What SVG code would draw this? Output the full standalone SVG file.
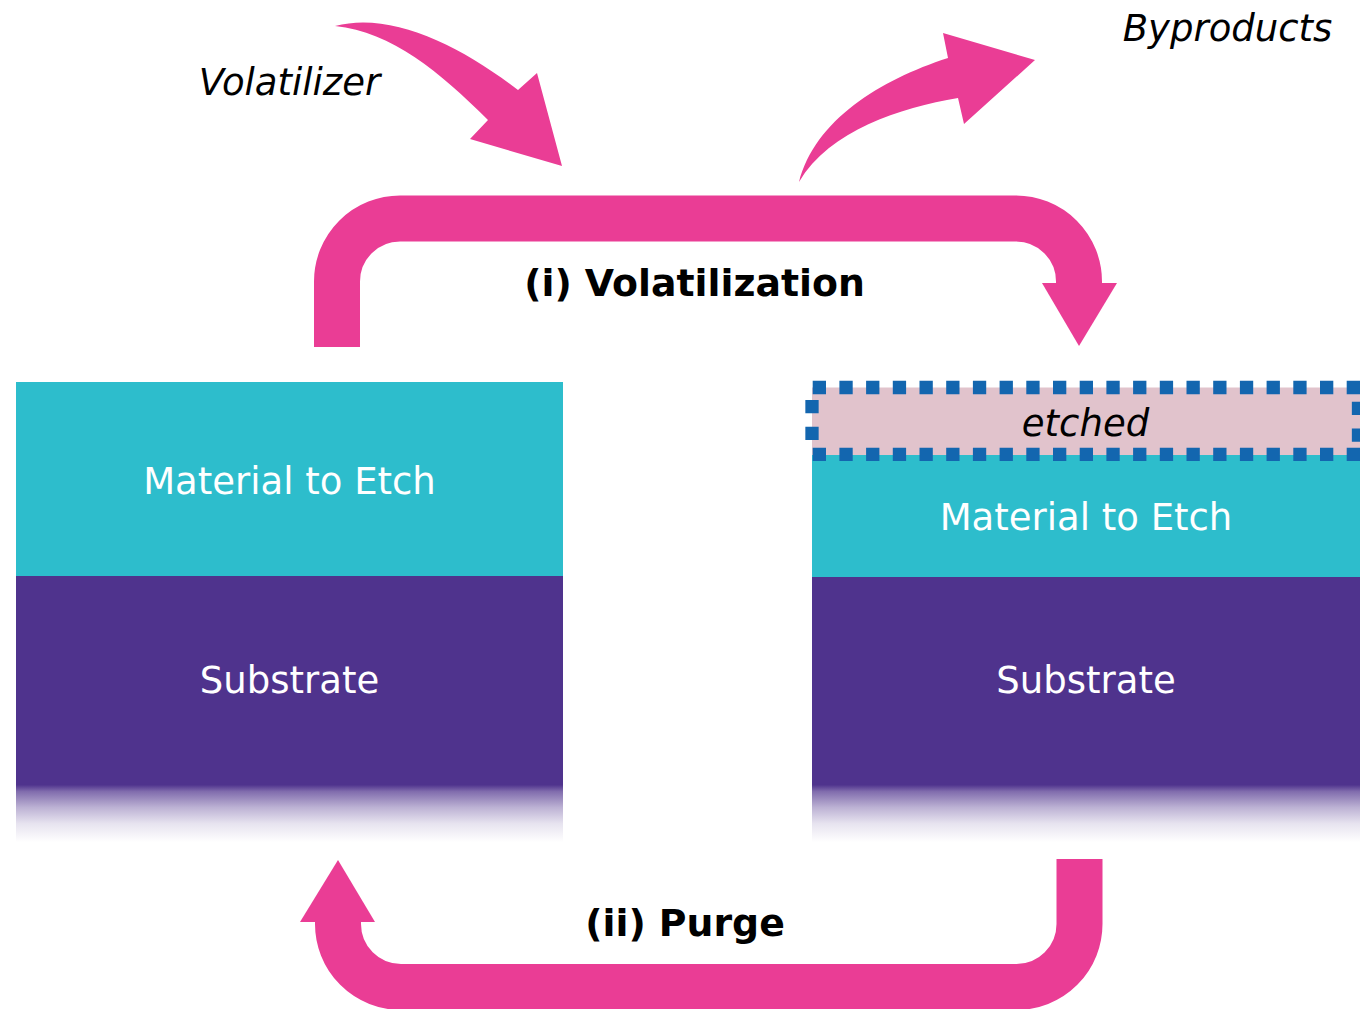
<svg xmlns="http://www.w3.org/2000/svg" width="1360" height="1009" viewBox="0 0 1360 1009">
  <style>
    .flow { fill: none; stroke: #EA3D95; stroke-width: 46; }
    .head { fill: #EA3D95; }
    .film { fill: #2DBDCC; }
    .lbl { font-family: "DejaVu Sans", Verdana, sans-serif; font-size: 37px; text-anchor: middle; }
    .white { fill: #FFFFFF; }
    .ital { font-style: italic; fill: #000000; }
    .step { font-weight: bold; font-size: 37.8px; fill: #000000; }
    .dots { fill: none; stroke: #1366AF; stroke-width: 13.3; stroke-dasharray: 13.3 13.4; }
  </style>
  <defs>
    <linearGradient id="substrateFade" gradientUnits="userSpaceOnUse" x1="0" y1="576" x2="0" y2="842">
      <stop offset="0" stop-color="#4F338D" stop-opacity="1"/>
      <stop offset="0.785" stop-color="#4F338D" stop-opacity="1"/>
      <stop offset="0.81" stop-color="#4F338D" stop-opacity="0.72"/>
      <stop offset="0.87" stop-color="#4F338D" stop-opacity="0.38"/>
      <stop offset="0.93" stop-color="#4F338D" stop-opacity="0.14"/>
      <stop offset="1" stop-color="#4F338D" stop-opacity="0"/>
    </linearGradient>
  </defs>

  <rect width="1360" height="1009" fill="#FFFFFF"/>

  <!-- starting stack -->
  <g id="stack-before">
    <rect class="film" x="16" y="382" width="547" height="194"/>
    <rect x="16" y="576" width="547" height="266" fill="url(#substrateFade)"/>
    <text class="lbl white" x="289.5" y="494">Material to Etch</text>
    <text class="lbl white" x="289.5" y="693">Substrate</text>
  </g>

  <!-- stack after one cycle, top layer removed -->
  <g id="stack-after">
    <rect x="812" y="387.5" width="548" height="67.5" fill="#E1C3CC"/>
    <rect class="film" x="812" y="455" width="548" height="122"/>
    <rect x="812" y="577" width="548" height="265" fill="url(#substrateFade)"/>
    <line class="dots" x1="812.7" y1="387.5" x2="1360" y2="387.5"/>
    <line class="dots" x1="812.7" y1="454.3" x2="1360" y2="454.3"/>
    <line class="dots" x1="812" y1="400" x2="812" y2="441"/>
    <line class="dots" x1="1358.5" y1="401.7" x2="1358.5" y2="442"/>
    <text class="lbl ital" x="1085.5" y="436">etched</text>
    <text class="lbl white" x="1086" y="530">Material to Etch</text>
    <text class="lbl white" x="1086" y="693">Substrate</text>
  </g>

  <!-- cycle arrows and reagent flows -->
  <g id="connectors">
    <path class="flow" d="M 337 347 V 281.5 A 63 63 0 0 1 400 218.5 H 1016 A 63 63 0 0 1 1079 281.5 V 285"/>
    <polygon class="head" points="1042,283 1117,283 1079,346"/>
    <path class="flow" d="M 1079.5 859 V 924 A 63 63 0 0 1 1016.5 987 H 401 A 63 63 0 0 1 338 924 V 920"/>
    <polygon class="head" points="300,922 375,922 338,860"/>
    <path class="head" d="M 335 26 C 390 11 460 45 518 90 L 537 73 L 562 166 L 470 139 L 488 120 C 440 72 392 32 335 26 Z"/>
    <path class="head" d="M 799 182 C 815 120 880 80 948 58 L 943 33 L 1035 60 L 964 124 L 958 98 C 900 108 830 130 799 182 Z"/>
  </g>

  <g id="labels">
    <text class="lbl step" x="694.5" y="296">(i) Volatilization</text>
    <text class="lbl step" x="685" y="936">(ii) Purge</text>
    <text class="lbl ital" x="289.5" y="95">Volatilizer</text>
    <text class="lbl ital" x="1227.5" y="41">Byproducts</text>
  </g>
</svg>
